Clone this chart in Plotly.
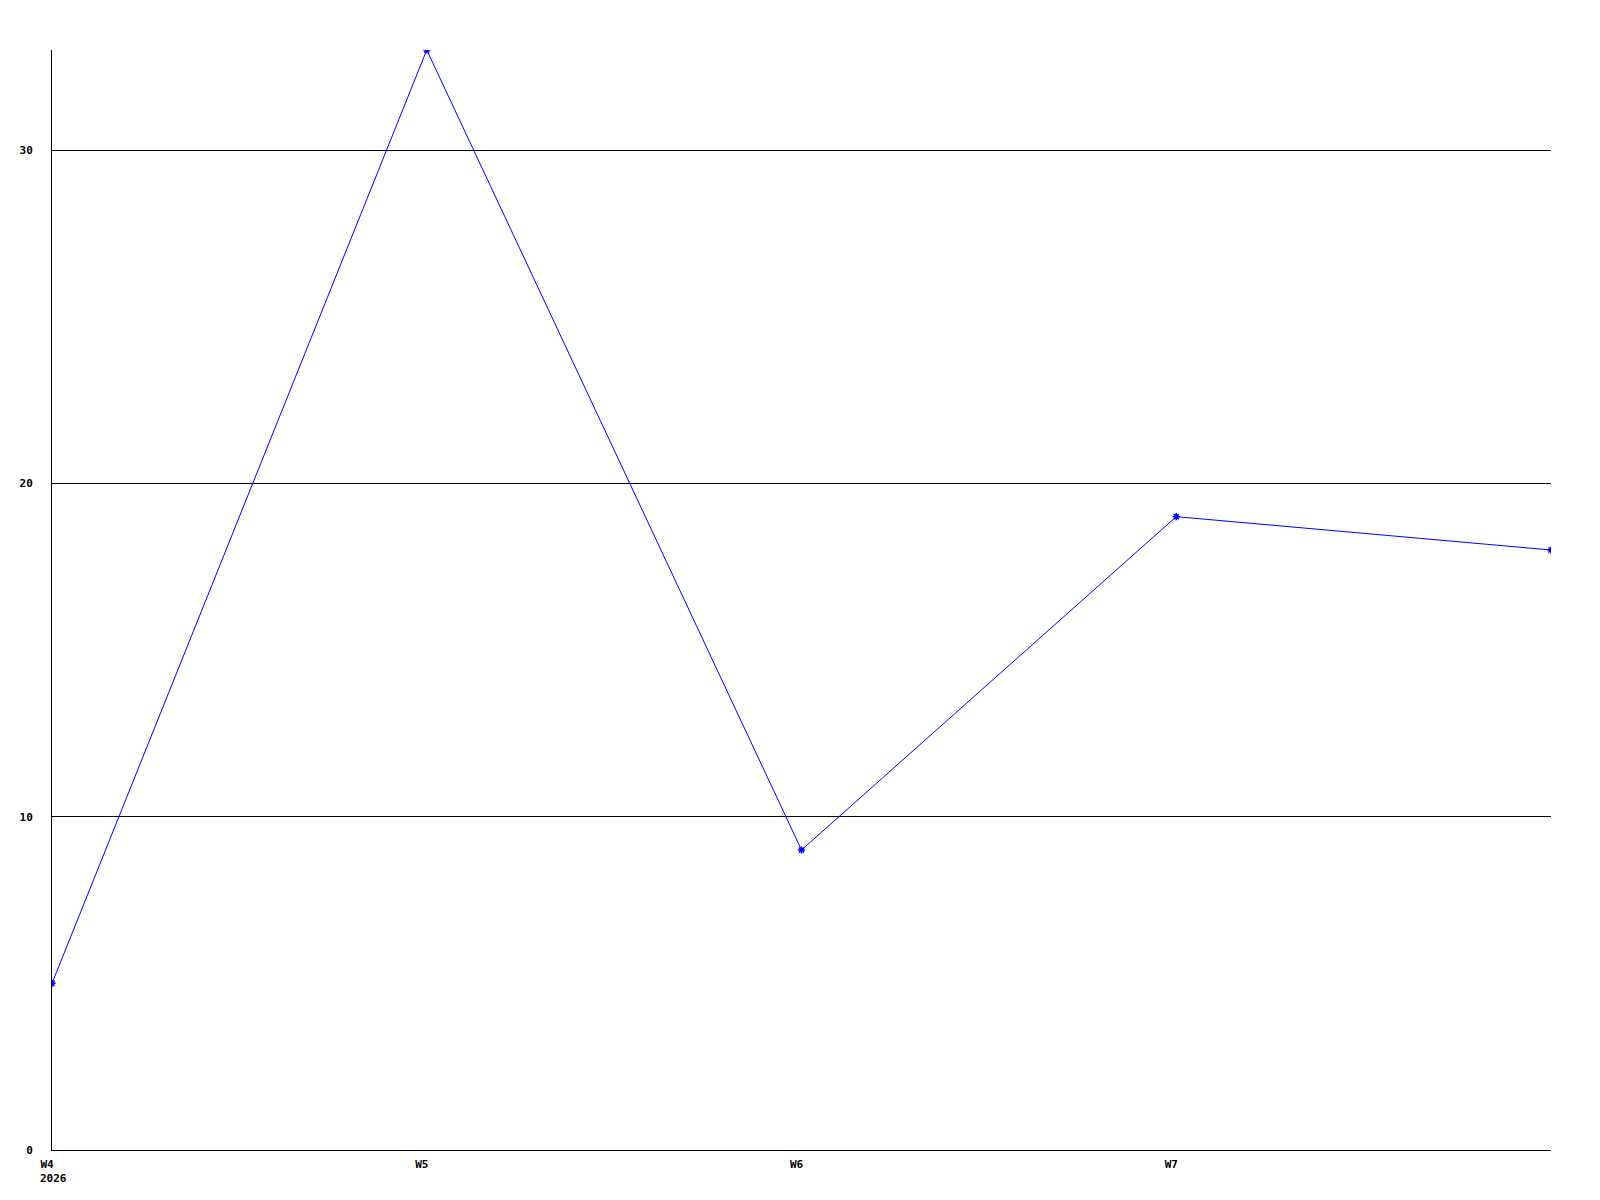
import plotly.graph_objects as go

weeks = ["W4", "W5", "W6", "W7", "W8"]
values = [5, 33, 9, 19, 18]
x_tick_labels = ["W4", "W5", "W6", "W7", ""]
y_ticks = [0, 10, 20, 30]
year_label = "2026"

xs = list(range(len(weeks)))
font = dict(family="DejaVu Sans Mono", size=11, color="black", weight="bold")

fig = go.Figure()
fig.add_trace(go.Scatter(
    x=xs, y=values, mode="lines+markers",
    line=dict(color="#0000ff", width=1),
    marker=dict(symbol="asterisk-open", size=6, color="#0000ff",
                line=dict(color="#0000ff", width=1.5)),
    hoverinfo="skip", showlegend=False,
))

fig.add_annotation(x=xs[0], y=0, xref="x", yref="paper", text=year_label,
                   showarrow=False, xanchor="left", yanchor="top",
                   xshift=-14, yshift=-20, font=font)

fig.update_layout(
    width=1592, height=1192,
    margin=dict(l=42, r=49, t=42, b=50),
    paper_bgcolor="white", plot_bgcolor="white",
    font=font,
    xaxis=dict(range=[0, len(weeks) - 1], tickvals=xs, ticktext=x_tick_labels,
               showgrid=False, zeroline=False, showline=True, linecolor="black",
               linewidth=1, ticks="", tickfont=font, ticklabelstandoff=4,
               ticklabelshift=-5),
    yaxis=dict(range=[0, 33], tickvals=y_ticks, showgrid=True, gridcolor="black",
               gridwidth=1, zeroline=False, showline=True, linecolor="black",
               linewidth=1, ticks="", tickfont=font, ticklabelstandoff=16),
)

fig.write_html("out.html")
